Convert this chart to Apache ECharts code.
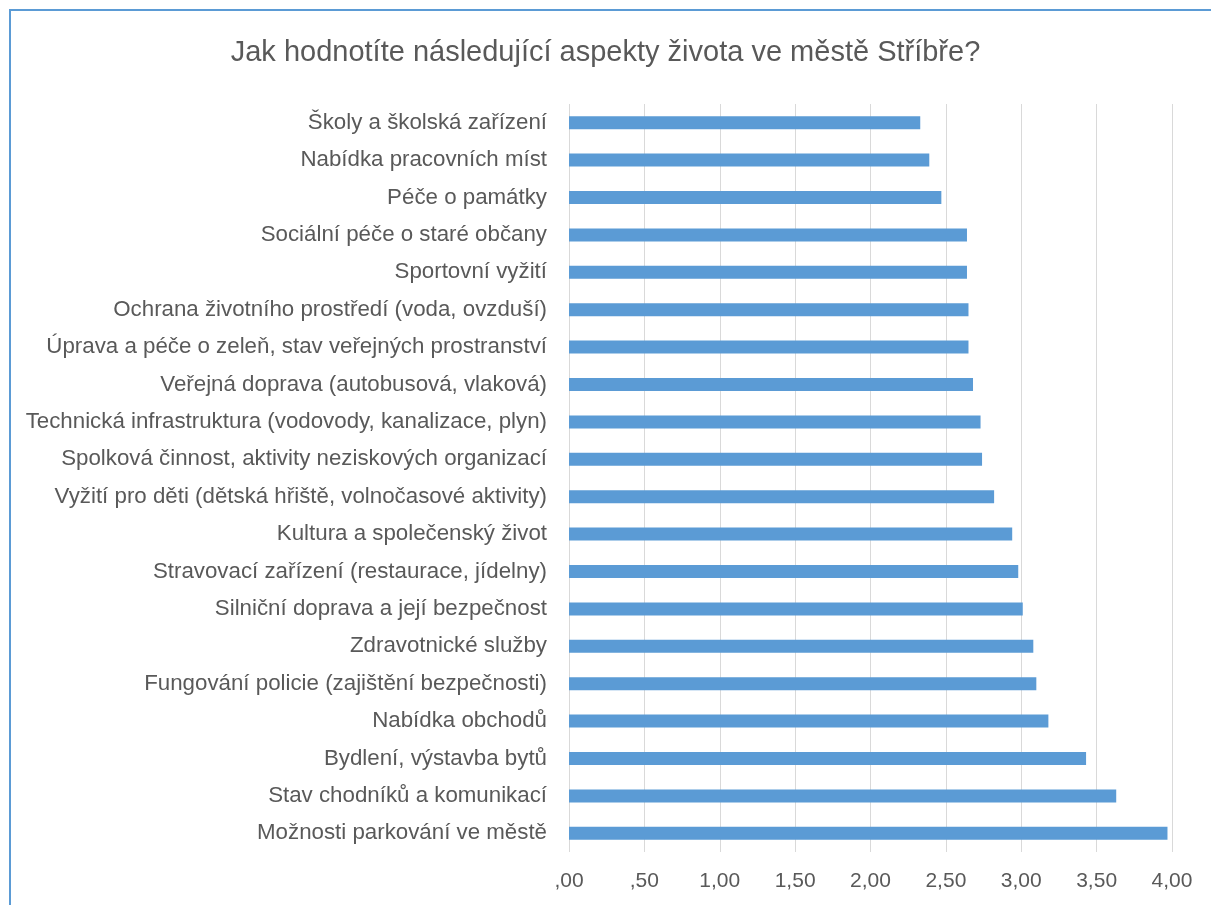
<!DOCTYPE html>
<html>
<head>
<meta charset="utf-8">
<script src="https://cdn.jsdelivr.net/npm/echarts@6/dist/echarts.min.js"></script>
<style>
html, body { margin: 0; padding: 0; background: #fff; }
#chart { width: 1211px; height: 905px; }
</style>
</head>
<body>
<div id="chart"></div>
<script>
var categories = [
    'Školy a školská zařízení',
    'Nabídka pracovních míst',
    'Péče o památky',
    'Sociální péče o staré občany',
    'Sportovní vyžití',
    'Ochrana životního prostředí (voda, ovzduší)',
    'Úprava a péče o zeleň, stav veřejných prostranství',
    'Veřejná doprava (autobusová, vlaková)',
    'Technická infrastruktura (vodovody, kanalizace, plyn)',
    'Spolková činnost, aktivity neziskových organizací',
    'Vyžití pro děti (dětská hřiště, volnočasové aktivity)',
    'Kultura a společenský život',
    'Stravovací zařízení (restaurace, jídelny)',
    'Silniční doprava a její bezpečnost',
    'Zdravotnické služby',
    'Fungování policie (zajištění bezpečnosti)',
    'Nabídka obchodů',
    'Bydlení, výstavba bytů',
    'Stav chodníků a komunikací',
    'Možnosti parkování ve městě'
];
var ratings = [2.33, 2.39, 2.47, 2.64, 2.64, 2.65, 2.65, 2.68, 2.73, 2.74,
               2.82, 2.94, 2.98, 3.01, 3.08, 3.10, 3.18, 3.43, 3.63, 3.97];
var tickLabels = [',00', ',50', '1,00', '1,50', '2,00', '2,50', '3,00', '3,50', '4,00'];

var chart = echarts.init(document.getElementById('chart'));
var font = 'Liberation Sans';

var option = {
    animation: false,
    backgroundColor: '#fff',
    title: {
        text: 'Jak hodnotíte následující aspekty života ve městě Stříbře?',
        left: 'center',
        top: 33,
        textStyle: { color: '#595959', fontSize: 29, fontWeight: 'normal', fontFamily: font }
    },
    graphic: [{
        type: 'rect',
        shape: { x: 10, y: 10, width: 1400, height: 1100 },
        style: { fill: 'none', stroke: '#5B9BD5', lineWidth: 2 },
        silent: true
    }],
    grid: { left: 569, right: 39, top: 104, bottom: 53 },
    xAxis: {
        type: 'value',
        min: 0,
        max: 4,
        interval: 0.5,
        axisLine: { show: false },
        axisTick: { show: false },
        splitLine: { show: true, lineStyle: { color: '#d9d9d9', width: 1 } },
        axisLabel: {
            margin: 19,
            color: '#595959',
            fontSize: 21,
            fontFamily: font,
            formatter: function (v) { return tickLabels[Math.round(v / 0.5)]; }
        }
    },
    yAxis: {
        type: 'category',
        inverse: true,
        data: categories,
        axisLine: { show: false },
        axisTick: { show: false },
        axisLabel: { margin: 22, color: '#595959', fontSize: 22.3, fontFamily: font }
    },
    series: [{
        type: 'bar',
        data: ratings,
        barWidth: 13,
        itemStyle: { color: '#5B9BD5' }
    }]
};
chart.setOption(option);
</script>
</body>
</html>
